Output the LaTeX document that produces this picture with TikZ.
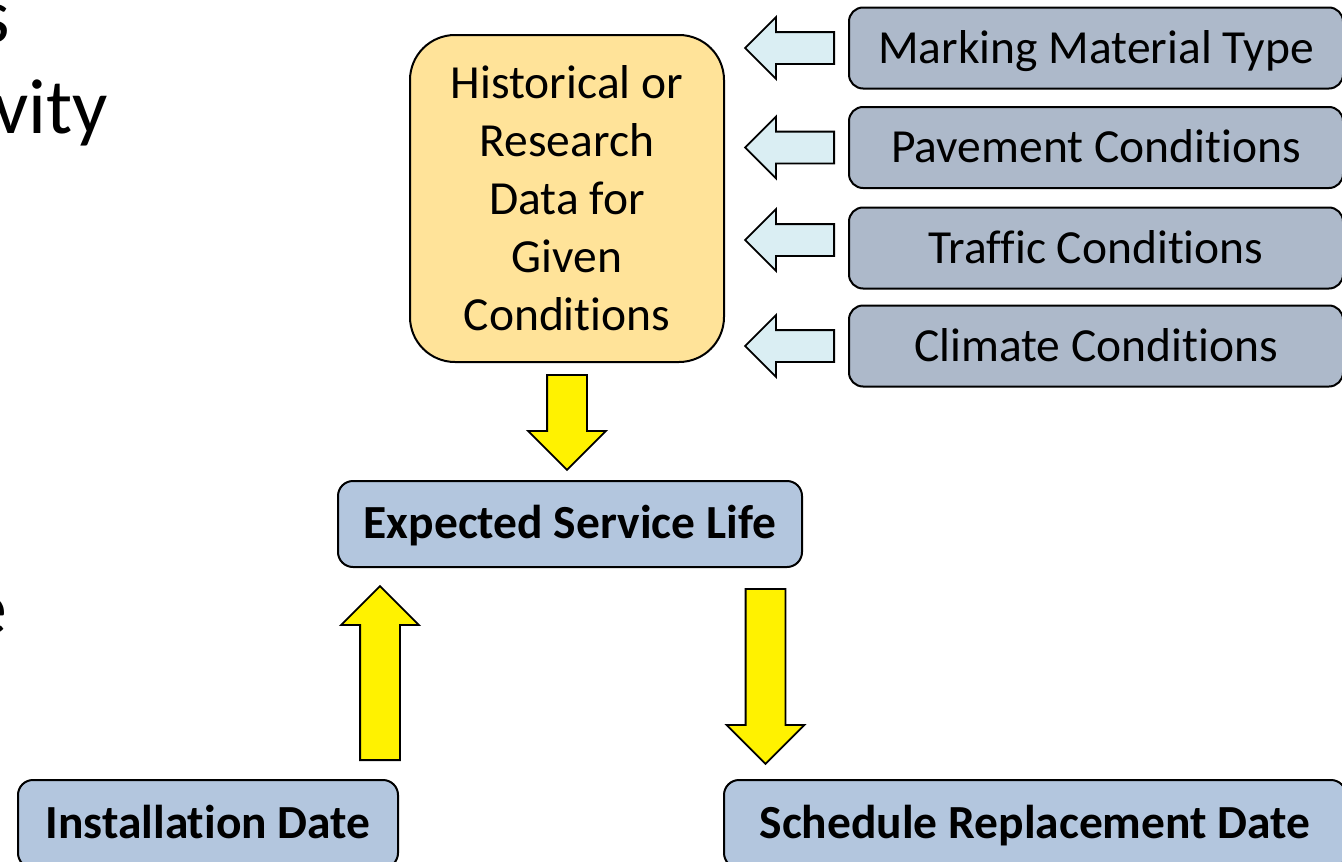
\documentclass[tikz,border=0pt]{standalone}
\usepackage{fontspec}
\setmainfont{Carlito}[Ligatures={NoCommon}]
\usetikzlibrary{shapes.arrows,calc}

\definecolor{datagold}{HTML}{FFE399}
\definecolor{factorgray}{HTML}{ADB9CA}
\definecolor{datefill}{HTML}{B3C6DE}
\definecolor{inblue}{HTML}{DAEEF3}

\newcommand\diagfont{\fontsize{47.5}{58}\selectfont}
\newcommand\sidefont{\fontsize{78}{94}\selectfont}

% block arrow from tail #2 to tip #3
\newcommand\blockarrow[3][]{%
  \path let \p1=#2, \p2=#3,
    \n1={veclen(\x2-\x1,\y2-\y1)}, \n2={atan2(\y2-\y1,\x2-\x1)} in
    (\p1) node[single arrow, draw, anchor=tail, rotate=\n2, minimum height=\n1, #1] {};}

\tikzset{
  inarrow/.style={fill=inblue, line width=1.8pt, inner xsep=0pt, inner ysep=15pt,
    single arrow head extend=15pt},
  flowarrow/.style={fill=yellow, line width=1.8pt, inner xsep=0pt, inner ysep=19pt,
    single arrow head extend=19pt}
}

\begin{document}
\begin{tikzpicture}[
    x=1pt, y=-1pt,
    datanode/.style={draw, line width=2pt, rounded corners=45pt, fill=datagold,
      minimum width=314pt, minimum height=327pt, align=center, font=\diagfont},
    factor/.style={draw, line width=2pt, rounded corners=14pt, fill=factorgray,
      minimum width=494pt, minimum height=81pt, font=\diagfont,
      text height=33pt, text depth=3pt},
    datebox/.style={draw, line width=2pt, rounded corners=15pt, fill=datefill,
      minimum height=88pt, font=\diagfont\bfseries,
      text height=33pt, text depth=5pt},
    sidetext/.style={anchor=base east, inner sep=0pt, font=\sidefont}
  ]
  \useasboundingbox (0,0) rectangle (1342,862);
  \clip (0,0) rectangle (1342,862);

  % slide text running off the left side
  \node[sidetext] (sideA) at (10,42) {s};
  \node[sidetext] (sideB) at (108,133) {vity};
  \node[sidetext] (sideC) at (8,634) {e};

  % data box and the conditions feeding it
  \node[datanode] (hist) at (567,198.5) {Historical or\\Research\\Data for\\Given\\Conditions};
  \node[factor] (mat) at (1096,48) {Marking Material Type};
  \node[factor] (pav) at (1096,147.5) {Pavement Conditions};
  \node[factor] (traf) at (1096,248) {Traffic Conditions};
  \node[factor] (clim) at (1096,346) {Climate Conditions};

  % service life and dates
  \node[datebox, minimum width=464pt, minimum height=86pt] (esl) at (570,524) {Expected Service Life};
  \node[datebox, minimum width=380pt] (inst) at (208,824) {Installation Date};
  \node[datebox, minimum width=622pt] (sched) at (1035,824) {Schedule Replacement Date};

  % inputs
  \blockarrow[inarrow]{([xshift=-13pt]mat.west)}{($(hist.east |- mat.west)+(21,0)$)}
  \blockarrow[inarrow]{([xshift=-13pt]pav.west)}{($(hist.east |- pav.west)+(21,0)$)}
  \blockarrow[inarrow]{([xshift=-13pt,yshift=8pt]traf.west)}{($(hist.east |- traf.west)+(21,-8)$)}
  \blockarrow[inarrow]{([xshift=-13pt]clim.west)}{($(hist.east |- clim.west)+(21,0)$)}

  % flow
  \blockarrow[flowarrow]{($(hist.south)+(0,11)$)}{($(hist.south |- esl.north)+(0,-11)$)}
  \coordinate (upTip) at ($(esl.south west)+(43,19)$);
  \blockarrow[flowarrow]{($(upTip |- inst.north)+(0,-18)$)}{(upTip)}
  \coordinate (dnTail) at ($(esl.south east)+(-37.5,20)$);
  \blockarrow[flowarrow]{(dnTail)}{($(dnTail |- sched.north)+(0,-16)$)}
\end{tikzpicture}
\end{document}
